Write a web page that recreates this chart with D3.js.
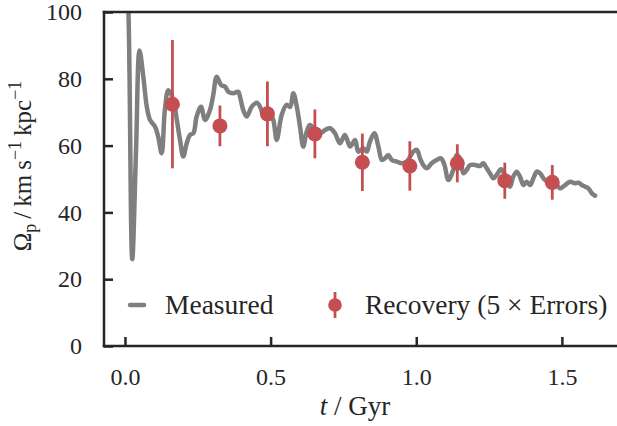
<!DOCTYPE html>
<html><head><meta charset="utf-8">
<script src="https://cdn.jsdelivr.net/npm/d3@7"></script>
<style>
body{margin:0;background:#fff}
svg{display:block}
</style>
</head><body><div id="chart"></div>
<script>
// Measured pattern speed vs time
const measuredT = [0.000,0.012,0.025,0.038,0.050,0.063,0.075,0.086,0.103,0.114,0.126,0.137,0.149,0.166,0.178,0.189,0.200,0.212,0.223,0.235,0.246,0.261,0.275,0.292,0.303,0.315,0.330,0.344,0.355,0.372,0.389,0.395,0.406,0.418,0.435,0.452,0.464,0.475,0.492,0.509,0.521,0.538,0.555,0.567,0.578,0.590,0.601,0.612,0.624,0.635,0.652,0.670,0.687,0.704,0.721,0.738,0.755,0.773,0.790,0.801,0.818,0.830,0.841,0.856,0.870,0.882,0.893,0.904,0.916,0.933,0.950,0.967,0.979,0.990,1.002,1.013,1.024,1.036,1.053,1.070,1.085,1.097,1.110,1.127,1.139,1.150,1.162,1.173,1.185,1.202,1.219,1.230,1.242,1.253,1.265,1.276,1.291,1.305,1.322,1.333,1.345,1.356,1.368,1.379,1.391,1.402,1.414,1.425,1.442,1.460,1.477,1.494,1.511,1.528,1.545,1.557,1.568,1.580,1.591,1.603,1.614];
const measuredV = [125,100,26.0,58.7,88.5,80.6,71.6,67.7,65.7,62.7,57.7,70.7,76.6,73.7,67.7,61.7,56.7,60.7,63.2,63.7,68.7,71.6,67.7,70.7,75.1,80.6,78.1,77.6,76.1,75.7,76.1,74.6,70.7,68.7,71.6,72.8,71.6,69.2,70.7,67.7,61.7,69.2,72.2,71.6,75.7,71.6,65.7,59.7,64.2,66.2,64.7,63.7,64.7,65.2,63.7,60.7,63.2,59.7,61.7,58.2,59.2,58.2,61.2,63.7,59.7,55.7,56.2,57.2,55.7,55.2,54.7,55.2,56.7,58.2,58.7,56.2,54.2,53.2,54.7,55.7,56.2,54.2,49.7,52.7,57.2,56.2,51.7,52.7,54.2,54.2,53.9,54.7,53.2,51.7,50.2,51.2,52.9,51.2,47.7,50.7,52.2,50.7,48.2,49.2,48.2,50.2,52.2,51.7,49.7,49.2,48.7,47.2,48.2,49.2,48.7,48.9,48.2,47.7,47.2,45.7,45.0];
// Recovery (5x errors)
const recoveryT = [0.163,0.326,0.489,0.652,0.815,0.978,1.141,1.304,1.467];
const recoveryV = [72.4,65.9,69.5,63.5,55.0,53.9,54.7,49.5,49.0];
const recoveryErr = [19.2,6.1,9.7,7.3,8.6,7.4,5.7,5.4,5.2];
const xTicks = [0,0.5,1.0,1.5];
const xTickLabels = ["0.0","0.5","1.0","1.5"];
const yTicks = [0,20,40,60,80,100];
const yTickLabels = ["0","20","40","60","80","100"];

// pick an installed serif font
function hasFont(name){
  const c=document.createElement("canvas").getContext("2d");
  const s="Recovery (5 Errors) 0123456789 Gyr";
  c.font="30px monospace"; const a=c.measureText(s).width;
  c.font=`30px "${name}", monospace`; const b=c.measureText(s).width;
  return Math.abs(a-b)>0.5;
}
const candidates=["Liberation Serif","Times New Roman","Tinos","Nimbus Roman","DejaVu Serif"];
const FONT_NAME=candidates.find(hasFont)||"serif";
const FONT=`"${FONT_NAME}", serif`;

const W=617,H=426;
const L=104,T=12,B=346,R=620;
const ink="#262626", gray="#7f7f7f", red="#c44e52";
const x=d3.scaleLinear().domain([-0.072,1.6995]).range([L,R]);
const y=d3.scaleLinear().domain([0,100]).range([B,T]);

const svg=d3.select("#chart").append("svg").attr("width",W).attr("height",H)
  .style("font-family",FONT);
svg.append("defs").append("clipPath").attr("id","clip")
  .append("rect").attr("x",L).attr("y",T).attr("width",R-L).attr("height",B-T);

const line=d3.line().x((d,i)=>x(measuredT[i])).y(d=>y(d)).curve(d3.curveCatmullRom.alpha(0.5));
svg.append("path").attr("clip-path","url(#clip)").attr("d",line(measuredV))
  .attr("fill","none").attr("stroke",gray).attr("stroke-width",4.5)
  .attr("stroke-linejoin","round").attr("stroke-linecap","round");

const g=svg.append("g");
recoveryT.forEach((t,i)=>{
  g.append("line").attr("x1",x(t)).attr("x2",x(t))
    .attr("y1",y(recoveryV[i]-recoveryErr[i])).attr("y2",y(recoveryV[i]+recoveryErr[i]))
    .attr("stroke",red).attr("stroke-width",2.8);
  g.append("circle").attr("cx",x(t)).attr("cy",y(recoveryV[i])).attr("r",7.5).attr("fill",red);
});

// spines
svg.append("line").attr("x1",L).attr("x2",L).attr("y1",T).attr("y2",B).attr("stroke",ink).attr("stroke-width",2.5).attr("stroke-linecap","square");
svg.append("line").attr("x1",L).attr("x2",R).attr("y1",T).attr("y2",T).attr("stroke",ink).attr("stroke-width",2.5).attr("stroke-linecap","square");
svg.append("line").attr("x1",L).attr("x2",R).attr("y1",B).attr("y2",B).attr("stroke",ink).attr("stroke-width",2.5).attr("stroke-linecap","square");

// y axis
const ya=svg.append("g").attr("transform",`translate(${L},0)`)
  .call(d3.axisRight(y).tickValues(yTicks).tickSize(9).tickFormat((d,i)=>yTickLabels[i]));
ya.attr("font-family",null).attr("font-size",24);
ya.select(".domain").remove();
ya.selectAll(".tick line").attr("stroke",ink).attr("stroke-width",2.5);
ya.selectAll(".tick text").attr("x",-22).attr("text-anchor","end").attr("fill",ink).style("font-family",FONT);

// x axis
const xa=svg.append("g").attr("transform",`translate(0,${B})`)
  .call(d3.axisTop(x).tickValues(xTicks).tickSize(9).tickFormat((d,i)=>xTickLabels[i]));
xa.attr("font-family",null).attr("font-size",24);
xa.select(".domain").remove();
xa.selectAll(".tick line").attr("stroke",ink).attr("stroke-width",2.5);
xa.selectAll(".tick text").attr("y",39).attr("dy",0).attr("text-anchor","middle").attr("fill",ink).style("font-family",FONT);

// x label
const xl=svg.append("text").attr("x",355).attr("y",415).attr("text-anchor","middle").attr("font-size",27).attr("fill",ink).style("font-family",FONT);
xl.append("tspan").attr("font-style","italic").text("t");
xl.append("tspan").text(" / Gyr");

// y label
const yl=svg.append("text").attr("transform","translate(31,166) rotate(-90)").attr("text-anchor","middle").attr("font-size",25).attr("fill",ink).style("font-family",FONT);
yl.append("tspan").text("\u03A9");
yl.append("tspan").attr("font-size",18).attr("dy",5).text("p");
yl.append("tspan").attr("dy",-5).text("\u2009/\u2009km\u2009s");
yl.append("tspan").attr("font-size",18).attr("dy",-10).text("\u22121");
yl.append("tspan").attr("dy",10).text("\u2009kpc");
yl.append("tspan").attr("font-size",18).attr("dy",-10).text("\u22121");

// legend
const lg=svg.append("g").style("font-family",FONT);
lg.append("line").attr("x1",130).attr("x2",144).attr("y1",305).attr("y2",305)
  .attr("stroke",gray).attr("stroke-width",4.5).attr("stroke-linecap","round");
lg.append("text").attr("x",165).attr("y",314).attr("font-size",27.5).attr("fill",ink).text("Measured");
lg.append("line").attr("x1",335).attr("x2",335).attr("y1",292).attr("y2",318).attr("stroke",red).attr("stroke-width",2.8);
lg.append("circle").attr("cx",335).attr("cy",305).attr("r",6.8).attr("fill",red);
lg.append("text").attr("x",365).attr("y",314).attr("font-size",27.5).attr("fill",ink).text("Recovery (5 \u00D7 Errors)");
</script></body></html>
